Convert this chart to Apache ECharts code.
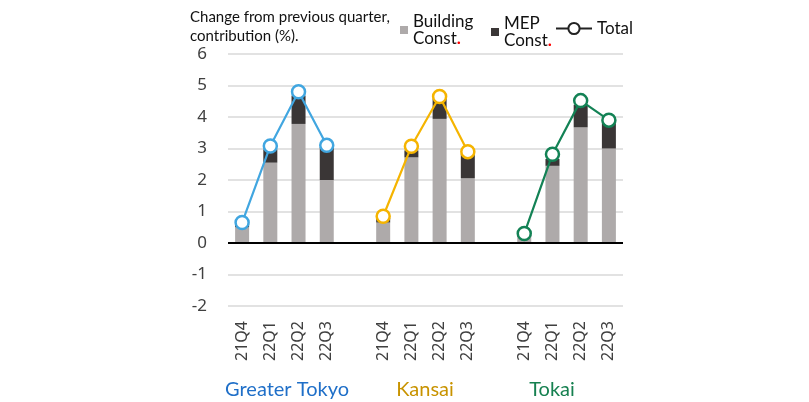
<!DOCTYPE html>
<html>
<head>
<meta charset="utf-8">
<script src="https://cdn.jsdelivr.net/npm/echarts@6/dist/echarts.min.js"></script>
<style>
  html, body { margin: 0; padding: 0; background: #fff; }
  #main { width: 809px; height: 402px; }
</style>
</head>
<body>
<div id="main"></div>
<script>
var myChart = echarts.init(document.getElementById('main'));

// quarters, with an empty slot between the regions
let quarters = ['21Q4','22Q1','22Q2','22Q3','','21Q4','22Q1','22Q2','22Q3','','21Q4','22Q1','22Q2','22Q3'];
let building = [0.5, 2.55, 3.78, 2.0, null, 0.65, 2.72, 3.94, 2.06, null, 0.2, 2.45, 3.67, 3.0];
let mep      = [0.12, 0.42, 0.9, 1.05, null, 0.15, 0.22, 0.65, 0.78, null, 0.06, 0.22, 0.72, 0.8];
let totalTokyo  = [0.65, 3.08, 4.8, 3.1, null, null, null, null, null, null, null, null, null, null];
let totalKansai = [null, null, null, null, null, 0.85, 3.07, 4.65, 2.9, null, null, null, null, null];
let totalTokai  = [null, null, null, null, null, null, null, null, null, null, 0.3, 2.82, 4.52, 3.9];
let regions = ['Greater Tokyo', 'Kansai', 'Tokai'];

function totalLine(name, data, color) {
  return {
    name: name,
    type: 'line',
    data: data,
    color: color,
    lineStyle: { width: 2.2, color: color },
    symbol: 'circle',
    symbolSize: 13,
    itemStyle: { color: '#fff', borderColor: color, borderWidth: 2.5 },
    z: 5
  };
}

var option = {
  animation: false,
  textStyle: { fontFamily: 'Lato' },
  title: {
    text: 'Change from previous quarter,\ncontribution (%).',
    left: 185,
    top: 3,
    textStyle: { fontSize: 15, fontWeight: 'normal', color: '#111', lineHeight: 19, fontFamily: 'Lato' }
  },
  legend: [{
    data: ['Building'],
    left: 395,
    top: 8,
    icon: 'rect',
    itemWidth: 8,
    itemHeight: 8,
    formatter: function () { return 'Building\nConst{r|.}'; },
    textStyle: { fontSize: 17, color: '#111', lineHeight: 17, rich: { r: { color: '#ff0000', fontSize: 17, fontWeight: 'bold' } } }
  }, {
    data: ['MEP'],
    left: 486,
    top: 10,
    icon: 'rect',
    itemWidth: 8,
    itemHeight: 8,
    formatter: function () { return 'MEP\nConst{r|.}'; },
    textStyle: { fontSize: 17, color: '#111', lineHeight: 17, rich: { r: { color: '#ff0000', fontSize: 17, fontWeight: 'bold' } } }
  }, {
    data: ['Total'],
    left: 550,
    top: 15,
    itemWidth: 36,
    itemHeight: 14,
    textStyle: { fontSize: 17, color: '#111' }
  }],
  grid: { left: 228, right: 186, top: 54, bottom: 96 },
  xAxis: {
    type: 'category',
    data: quarters,
    axisLine: { show: false },
    axisTick: { show: false },
    axisLabel: { rotate: 90, interval: 0, margin: 15, fontSize: 16, color: '#404040', fontFamily: 'Noto Sans' }
  },
  yAxis: {
    type: 'value',
    min: -2,
    max: 6,
    interval: 1,
    axisLabel: { margin: 21, fontSize: 17, color: '#404040', fontFamily: 'Noto Sans' },
    splitLine: { lineStyle: { color: '#d9d9d9', width: 1.5 } }
  },
  graphic: [
    { type: 'text', x: 287, y: 390, style: { text: regions[0], fill: '#1f6fc8', font: '20px Lato', textAlign: 'center', textVerticalAlign: 'middle' } },
    { type: 'text', x: 425, y: 390, style: { text: regions[1], fill: '#c89300', font: '20px Lato', textAlign: 'center', textVerticalAlign: 'middle' } },
    { type: 'text', x: 552, y: 390, style: { text: regions[2], fill: '#168050', font: '20px Lato', textAlign: 'center', textVerticalAlign: 'middle' } }
  ],
  series: [{
    name: 'Building',
    type: 'bar',
    stack: 'c',
    data: building,
    barWidth: 14,
    itemStyle: { color: '#aeaaaa' },
    markLine: {
      silent: true,
      symbol: 'none',
      label: { show: false },
      lineStyle: { color: '#000', width: 2, type: 'solid' },
      data: [{ yAxis: 0 }]
    }
  }, {
    name: 'MEP',
    type: 'bar',
    stack: 'c',
    data: mep,
    barWidth: 14,
    itemStyle: { color: '#3a3636' }
  },
  totalLine('Tokyo', totalTokyo, '#41a6e0'),
  totalLine('KansaiT', totalKansai, '#f5b400'),
  totalLine('TokaiT', totalTokai, '#138255'),
  {
    name: 'Total',
    type: 'line',
    data: [],
    color: '#222',
    lineStyle: { width: 2.2, color: '#222' },
    symbol: 'circle',
    symbolSize: 12,
    itemStyle: { color: '#fff', borderColor: '#222', borderWidth: 2.5 }
  }]
};
myChart.setOption(option);
</script>
</body>
</html>
